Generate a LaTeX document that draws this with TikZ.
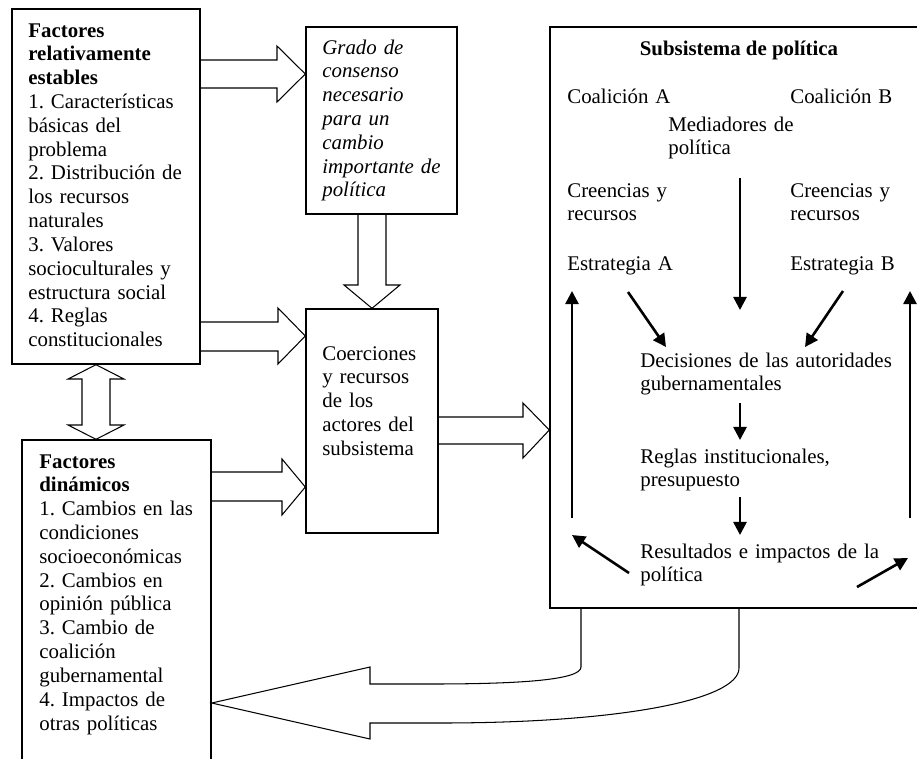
\documentclass[tikz,border=0pt]{standalone}
\usepackage{fontspec}
\setmainfont{Liberation Serif}
\usepackage{tikz}
\usetikzlibrary{calc,positioning,fit,arrows.meta}
\frenchspacing
\tikzstyle{box}  = [draw, line width=0.8pt, inner sep=0pt]
\tikzstyle{txt}  = [anchor=base west, inner sep=0pt, align=left, text width=150pt, font=\fontsize{12pt}{13.7pt}\selectfont]
\tikzstyle{blk}  = [draw, line width=0.6pt, line join=miter]
\tikzstyle{flow} = [line width=1.5pt, -{Triangle[length=7.5pt,width=7.5pt]}]

\begin{document}
\begin{tikzpicture}[x=0.575pt,y=-0.575pt]
		\useasboundingbox (0,0) rectangle (917,758);

		\node[box, fit={(12,9) (200,364)}] (stable) {};
		\node[box, fit={(306,27) (457,214)}] (grado) {};
		\node[box, fit={(306,309) (438,533)}] (coer) {};
		\node[box, fit={(22,440) (211,790)}] (dyn) {};
		\node[box, fit={(550,27) (935,608)}] (subsys) {};

		\node[txt] (stabletxt) at (28,37) {\textbf{Factores}\\\textbf{relativamente}\\\textbf{estables}\\1. Características\\básicas del\\problema\\2. Distribución de\\los recursos\\naturales\\3. Valores\\socioculturales y\\estructura social\\4. Reglas\\constitucionales};
		\node[txt, font=\fontsize{12pt}{13.7pt}\selectfont\itshape] (gradotxt) at (322,54) {Grado de\\consenso\\necesario\\para un\\cambio\\importante de\\política};
		\node[txt] (coertxt) at (322,360) {Coerciones\\y recursos\\de los\\actores del\\subsistema};
		\node[txt] (dyntxt) at (39,468) {\textbf{Factores}\\\textbf{dinámicos}\\1. Cambios en las\\condiciones\\socioeconómicas\\2. Cambios en\\opinión pública\\3. Cambio de\\coalición\\gubernamental\\4. Impactos de\\otras políticas};

		\node[anchor=base, inner sep=0pt, font=\fontsize{12pt}{13.7pt}\selectfont\bfseries] (title) at (739,55) {Subsistema de política};
		\node[txt] (coalA) at (567,103) {Coalición A};
		\node[txt] (coalB) at (790,103) {Coalición B};
		\node[txt] (med) at (668,131) {Mediadores de\\política};
		\node[txt] (credA) at (567,197) {Creencias y\\recursos};
		\node[txt] (credB) at (790,197) {Creencias y\\recursos};
		\node[txt] (estA) at (567,270) {Estrategia A};
		\node[txt] (estB) at (790,270) {Estrategia B};
		\node[txt] (dec) at (640,367) {Decisiones de las autoridades\\gubernamentales};
		\node[txt] (reg) at (640,463) {Reglas institucionales,\\presupuesto};
		\node[txt] (res) at (640,558) {Resultados e impactos de la\\política};

		\draw[blk] (stable.east |- 0,60) -- (277,60) -- (277,46) -- (grado.west |- 0,74) -- (277,102) -- (277,88) -- (stable.east |- 0,88);
		\draw[blk] (358,0 |- grado.south) -- (358,285) -- (344,285) -- (372,0 |- coer.north) -- (400,285) -- (386,285) -- (386,0 |- grado.south);
		\draw[blk] (stable.east |- 0,322) -- (278,322) -- (278,308) -- (coer.west |- 0,336) -- (278,364) -- (278,351) -- (stable.east |- 0,351);
		\draw[blk] (dyn.east |- 0,472) -- (282,472) -- (282,459) -- (coer.west |- 0,487) -- (282,515) -- (282,501) -- (dyn.east |- 0,501);
		\draw[blk] (coer.east |- 0,417) -- (523,417) -- (523,403) -- (subsys.west |- 0,430) -- (523,458) -- (523,444) -- (coer.east |- 0,444);
		\draw[blk] (96,0 |- stable.south) -- (124,379) -- (110,379) -- (110,425) -- (124,425) -- (96,0 |- dyn.north) -- (68,425) -- (82,425) -- (82,379) -- (68,379) -- cycle;

		\draw[blk] (739,0 |- subsys.south) -- (739,668) .. controls (739,700) and (620,723) .. (440,723) -- (370,723) -- (370,739) -- (dyn.east |- 0,703) -- (370,667) -- (370,684) -- (430,684) .. controls (520,684) and (581,680) .. (581,667) -- (581,0 |- subsys.south);

		\draw[flow] (572,518) -- (572,291);
		\draw[flow] (910,518) -- (910,291);
		\draw[flow] (628,292) -- (666,347);
		\draw[flow] (740,178) -- (740,310);
		\draw[flow] (843,291) -- (805,347);
		\draw[flow] (740,403) -- (740,440);
		\draw[flow] (740,497) -- (740,535);
		\draw[flow] (629,573) -- (572,535);
		\draw[flow] (857,587) -- (908,558);
	\end{tikzpicture}
\end{document}
